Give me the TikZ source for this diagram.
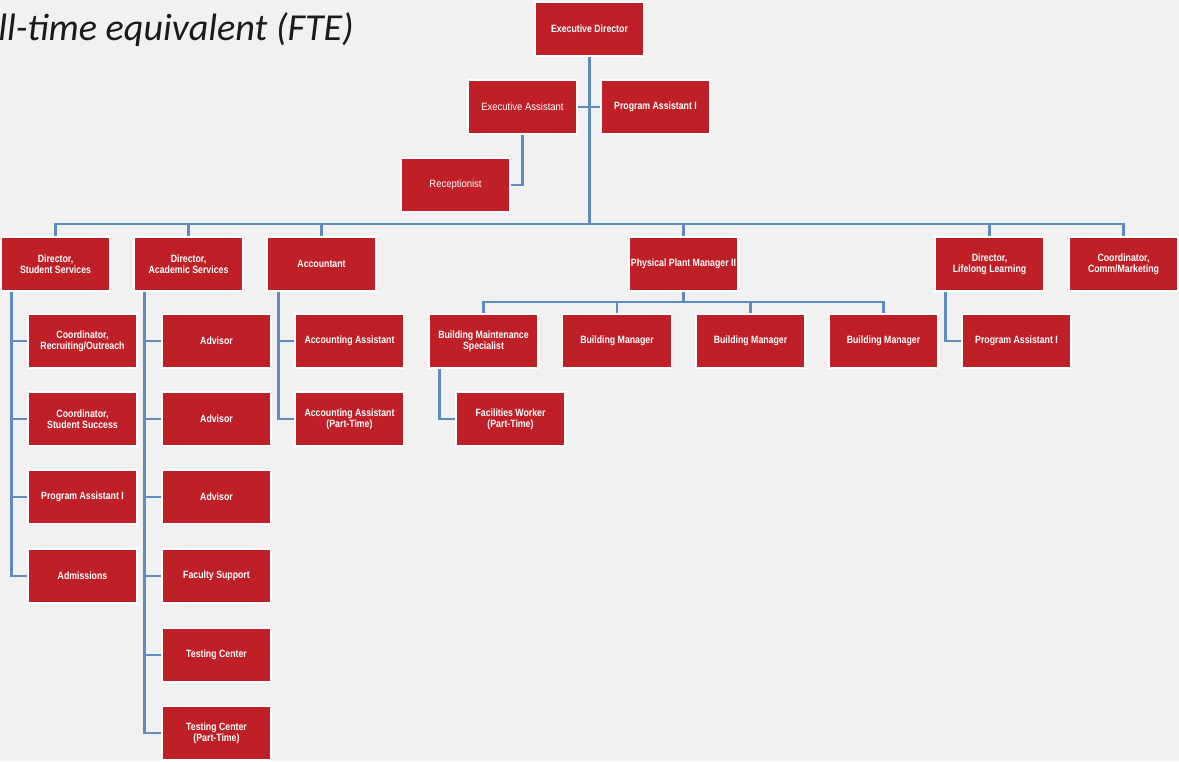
\documentclass[tikz,border=0pt]{standalone}
\usepackage{fontspec}
\setmainfont{Liberation Sans}
\newfontfamily\boxfont[FakeStretch=0.83]{Liberation Sans}
\newfontfamily\plainfont[FakeStretch=0.9]{Liberation Sans}
\newfontfamily\titlefont{Carlito}
\usetikzlibrary{positioning}
\definecolor{boxred}{HTML}{BF1F26}
\definecolor{linkblue}{HTML}{5E8CC0}
\definecolor{backgr}{HTML}{F1F1F1}
\definecolor{ink}{HTML}{1A1A1A}

\begin{document}
\begin{tikzpicture}[x=0.02cm, y=-0.02cm,
    bx/.style={draw=white, line width=0.8pt, fill=boxred, text=white, minimum width=2.18cm,
               minimum height=1.08cm, inner sep=1pt, align=center,
               font=\boxfont\bfseries\fontsize{6}{6.3}\selectfont},
    rx/.style={bx, font=\plainfont\fontsize{6}{6.3}\selectfont},
    ln/.style={draw=linkblue, line width=1.4pt}]
  \useasboundingbox (0,0) rectangle (1179,761);
  \fill[backgr] (0,0) rectangle (1179,761);
  \node[font=\titlefont\itshape\fontsize{21.7}{26}\selectfont, text=ink, anchor=base west,
        inner sep=0] (ttl) at (-2,40) {ll-time equivalent (FTE)};
  % top of the chart
  \node[bx] (ed) at (589.5,29) {Executive Director};
  \node[rx] (ea) at (522.5,107) {Executive Assistant};
  \node[bx] (pa) at (655.5,107) {Program Assistant I};
  \node[rx] (rec) at (455.5,185) {Receptionist};
  \coordinate (bus) at (589,224);
  \coordinate (pbus) at (683,302);
  % first level
  \node[bx] (dss) at (55.5,264) {Director,\\Student Services};
  \node[bx] (das) at (188.5,264) {Director,\\Academic Services};
  \node[bx] (acc) at (321.5,264) {Accountant};
  \node[bx] (ppm) at (683.5,264) {Physical Plant Manager II};
  \node[bx] (dll) at (989.5,264) {Director,\\Lifelong Learning};
  \node[bx] (ccm) at (1123.5,264) {Coordinator,\\Comm/Marketing};
  % columns
  \foreach \n/\y/\t in {ss1/341/{Coordinator,\\Recruiting/Outreach}, ss2/419/{Coordinator,\\Student Success},
                        ss3/497/{Program Assistant I}, ss4/576/{Admissions}}
    \node[bx] (\n) at (82.5,\y) {\t};
  \foreach \n/\y/\t in {as1/341/{Advisor}, as2/419/{Advisor}, as3/497/{Advisor}, as4/576/{Faculty Support},
                        as5/655/{Testing Center}, as6/733/{Testing Center\\(Part-Time)}}
    \node[bx] (\n) at (216.5,\y) {\t};
  \node[bx] (ac1) at (349.5,341) {Accounting Assistant};
  \node[bx] (ac2) at (349.5,419) {Accounting Assistant\\(Part-Time)};
  \node[bx] (bms) at (483.5,341) {Building Maintenance\\Specialist};
  \node[bx] (bm1) at (617,341) {Building Manager};
  \node[bx] (bm2) at (750.5,341) {Building Manager};
  \node[bx] (bm3) at (883.5,341) {Building Manager};
  \node[bx] (fw) at (510.5,419) {Facilities Worker\\(Part-Time)};
  \node[bx] (pll) at (1016.5,341) {Program Assistant I};
  % connectors
  \draw[ln] (ed.south) -- (ed.south |- bus);
  \draw[ln] (ea.east) -- (pa.west);
  \draw[ln] (ea.south) |- (rec.east);
  \draw[ln] (dss.north) -- (dss.north |- bus) -- (ccm.north |- bus) -- (ccm.north);
  \foreach \n in {das,acc,ppm,dll} \draw[ln] (\n.north) -- (\n.north |- bus);
  \draw[ln] (ppm.south) -- (ppm.south |- pbus);
  \draw[ln] (bms.north) -- (bms.north |- pbus) -- (bm3.north |- pbus) -- (bm3.north);
  \foreach \n in {bm1,bm2} \draw[ln] (\n.north) -- (\n.north |- pbus);
  \foreach \i in {1,...,4} \draw[ln] ([xshift=0.22cm]dss.south west) |- (ss\i.west);
  \foreach \i in {1,...,6} \draw[ln] ([xshift=0.22cm]das.south west) |- (as\i.west);
  \foreach \i in {1,2} \draw[ln] ([xshift=0.24cm]acc.south west) |- (ac\i.west);
  \draw[ln] ([xshift=0.22cm]bms.south west) |- (fw.west);
  \draw[ln] ([xshift=0.22cm]dll.south west) |- (pll.west);
\end{tikzpicture}
\end{document}
